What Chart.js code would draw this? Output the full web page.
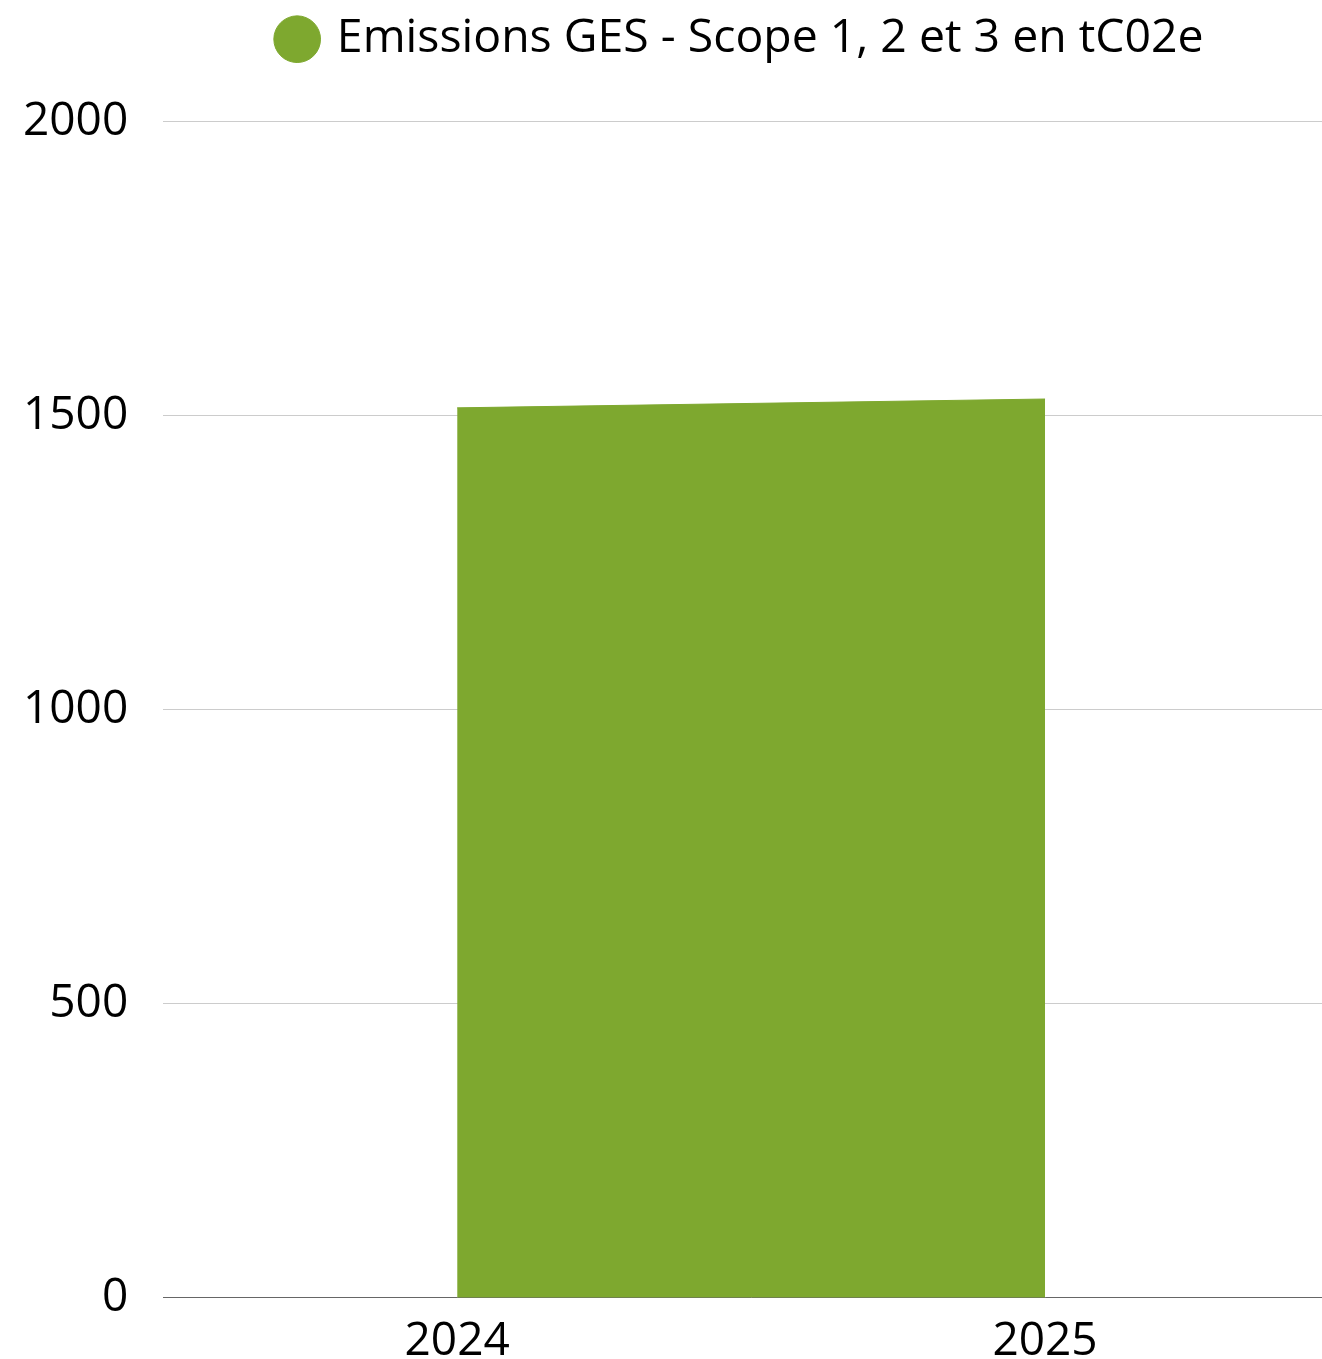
<!DOCTYPE html>
<html>
<head>
<meta charset="utf-8">
<script src="https://cdn.jsdelivr.net/npm/chart.js@4"></script>
<style>
  html, body { margin: 0; padding: 0; background: #fff; overflow: hidden; }
  #wrap { position: relative; width: 1479px; height: 1385px; }
</style>
</head>
<body>
<div id="wrap"><canvas id="chart"></canvas></div>
<script>
const years = ['2024', '2025'];
const emissions = [1513, 1528];
const yTicks = [0, 500, 1000, 1500, 2000];
const seriesLabel = 'Emissions GES - Scope 1, 2 et 3 en tC02e';

const green = '#7ea82f';
Chart.defaults.font.family = '"Open Sans", sans-serif';
Chart.defaults.color = '#000';

// extra space under the legend, and nudge it a bit left
const legendMargin = {
    id: 'legendMargin',
    beforeInit(chart) {
        const fit = chart.legend.fit;
        chart.legend.fit = function () {
            fit.bind(chart.legend)();
            this.height += 49;
        };
    },
    afterLayout(chart) {
        chart.legend.left -= 9;
        chart.legend.right -= 9;
    }
};

new Chart(document.getElementById('chart').getContext('2d'), {
    type: 'line',
    data: {
        labels: years,
        datasets: [{
            label: seriesLabel,
            data: emissions,
            backgroundColor: green,
            borderColor: green,
            borderWidth: 1,
            fill: 'origin',
            tension: 0,
            pointRadius: 0,
            pointStyle: 'circle'
        }]
    },
    options: {
        responsive: true,
        maintainAspectRatio: false,
        animation: false,
        layout: { padding: { right: 140, left: -12, top: 4, bottom: 0 } },
        plugins: {
            tooltip: { enabled: false },
            legend: {
                position: 'top',
                fullSize: false,
                labels: {
                    usePointStyle: true,
                    boxWidth: 33,
                    boxHeight: 33,
                    font: { size: 46.4 },
                    padding: 12
                }
            }
        },
        scales: {
            x: {
                offset: true,
                grid: { display: false, drawTicks: false },
                border: { color: '#666', width: 1 },
                ticks: { font: { size: 46 }, padding: 16, maxRotation: 0 }
            },
            y: {
                min: 0,
                max: 2000,
                afterBuildTicks: (axis) => { axis.ticks = yTicks.map(v => ({ value: v })); },
                grid: { color: '#cccccc', lineWidth: 1, drawTicks: false },
                border: { display: false },
                ticks: { font: { size: 46 }, padding: 35, callback: (v) => String(v) }
            }
        }
    },
    plugins: [legendMargin]
});
</script>
</body>
</html>
